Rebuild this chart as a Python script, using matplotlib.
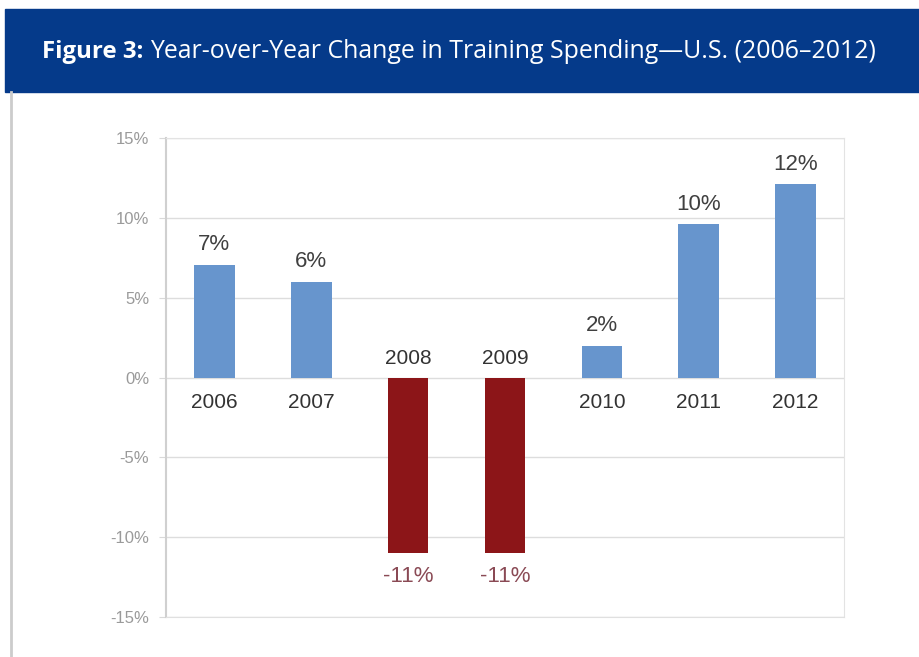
import matplotlib
matplotlib.use("Agg")
import matplotlib.pyplot as plt
from matplotlib.patches import Rectangle
from matplotlib.lines import Line2D

years = ["2006", "2007", "2008", "2009", "2010", "2011", "2012"]
changes = [7.05, 6.0, -11.0, -11.0, 2.0, 9.6, 12.1]
value_labels = ["7%", "6%", "-11%", "-11%", "2%", "10%", "12%"]
yticks = [-15, -10, -5, 0, 5, 10, 15]

plt.rcParams["font.family"] = ["Liberation Sans", "DejaVu Sans"]

blue = "#6795cd"
red = "#8c1518"

fig = plt.figure(figsize=(9.2, 6.57), dpi=100)

# header band
fig.patches.append(Rectangle((5 / 920, 1 - 92 / 657), 1, 83 / 657,
                             transform=fig.transFigure, color="#053a8a", zorder=0))
t1 = fig.text(42 / 920, 1 - 52 / 657, "Figure 3:", color="white", fontsize=17.3,
              fontweight="bold", family=["Open Sans", "DejaVu Sans"], va="center")
fig.canvas.draw()
bb = t1.get_window_extent()
fig.text((bb.x1 + 7) / 920, 1 - 52 / 657,
         "Year-over-Year Change in Training Spending\u2014U.S. (2006\u20132012)",
         color="white", fontsize=17.9, family=["Open Sans", "DejaVu Sans"], va="center")
# left border of the white panel
fig.lines.append(Line2D([11 / 920, 11 / 920], [0, 1 - 92 / 657],
                        transform=fig.transFigure, color="#cccccc", lw=2))

ax = fig.add_axes([166 / 920, 1 - 617 / 657, (844 - 166) / 920, (617 - 138) / 657])
x = range(len(years))
colors = [blue if v >= 0 else red for v in changes]
ax.bar(x, changes, width=0.42, color=colors, zorder=3)

ax.set_xlim(-0.5, len(years) - 0.5)
ax.set_ylim(-15, 15)
ax.set_yticks(yticks)
ax.set_yticklabels(["%d%%" % t for t in yticks], color="#9a9a9a", fontsize=12)
ax.tick_params(axis="y", length=5, color="#d9d9d9", pad=7)
ax.set_xticks([])
for t in yticks:
    ax.axhline(t, color="#dddddd", lw=1, zorder=1)

for s in ["top", "right"]:
    ax.spines[s].set_color("#e3e3e3")
ax.spines["left"].set_color("#d0d0d0")
ax.spines["left"].set_linewidth(1.5)
ax.spines["bottom"].set_color("#e0e0e0")

for i, (v, lab) in enumerate(zip(changes, value_labels)):
    if v >= 0:
        ax.text(i, v + 0.6, lab, ha="center", va="bottom", fontsize=16, color="#404040")
        ax.text(i, -1.0, years[i], ha="center", va="top", fontsize=15, color="#333333")
    else:
        ax.text(i, v - 0.8, lab, ha="center", va="top", fontsize=16, color="#8a4a55")
        ax.text(i, 0.6, years[i], ha="center", va="bottom", fontsize=15, color="#333333")

fig.savefig("out.png", dpi=100)
